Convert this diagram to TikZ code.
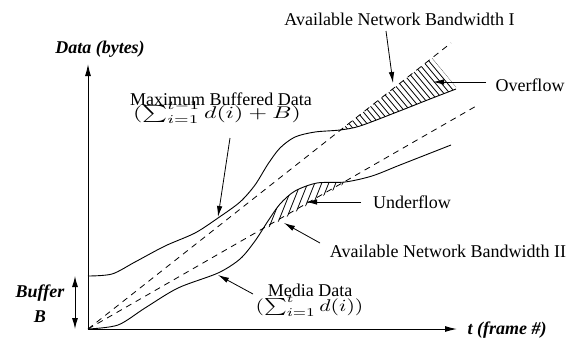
\documentclass[tikz,border=0pt]{standalone}
\usepackage{graphicx}
\usepackage{fontspec}
\setmainfont{Liberation Serif}
\usetikzlibrary{arrows.meta}
\begin{document}
\begin{tikzpicture}[x=1pt,y=-1pt,
  lbl/.style={font=\fontsize{18}{20}\selectfont, inner sep=0pt, anchor=base},
  mlbl/.style={font=\fontsize{10}{12}\selectfont, inner sep=0pt, anchor=base},
  axlbl/.style={font=\fontsize{18}{20}\selectfont\bfseries\itshape, inner sep=0pt, anchor=base},
  curve/.style={line width=0.9pt},
  axis/.style={line width=1pt,-{Latex[length=12pt,width=6pt]}},
  bw/.style={line width=0.8pt, dash pattern=on 6pt off 5pt},
  pointer/.style={line width=0.8pt, -{Latex[length=11pt,width=5.5pt]}},
  hatch/.style={line width=0.8pt}]
\useasboundingbox (0,0) rectangle (572,338);

% axes
\coordinate (O) at (88,329);
\coordinate (Ytop) at (88,64);
\coordinate (Xend) at (457,329);
\draw[axis] (O) -- (Ytop);
\draw[axis] (O) -- (Xend);

% buffer arrow
\coordinate (bbt) at (75,276);
\coordinate (bbb) at (75,329);
\draw[line width=1pt,{Latex[length=11pt,width=6pt]}-{Latex[length=11pt,width=6pt]}] (bbt) -- (bbb);

% bandwidth lines
\coordinate (BWI) at (451,43);
\coordinate (BWII) at (478,105);
\draw[bw] (O) -- (BWI);
\draw[bw] (O) -- (BWII);

% maximum buffered data curve
\draw[curve] plot[smooth] coordinates {(88,276) (112,274) (135,262) (165,246) (195,233) (218,218) (240,202) (255,185) (268,164) (280,148) (295,137) (315,132) (340,130) (360,126) (397,112) (430,99) (456,89)};

% media data curve
\draw[curve] plot[smooth] coordinates {(88,329) (118,325) (145,308) (178,288) (218,273) (240,259) (255,241) (268,221) (280,204) (295,191) (317,183) (345,182) (372,176) (400,165) (451,145)};

% overflow hatching
\begin{scope}
  \clip (330,138.3) -- (432,58) -- (461,93) -- (461,200) -- (330,200) -- cycle;
  \clip plot[smooth] coordinates {(88,276) (112,274) (135,262) (165,246) (195,233) (218,218) (240,202) (255,185) (268,164) (280,148) (295,137) (315,132) (340,130) (360,126) (397,112) (430,99) (456,89)} -- (456,0) -- (88,0) -- cycle;
  \foreach \x in {150,156,...,462} \draw[hatch] (\x,0) -- ++(150,180);
\end{scope}

% underflow hatching
\begin{scope}
  \clip (250,237.9) -- (350,180.5) -- (350,100) -- (250,100) -- cycle;
  \clip plot[smooth] coordinates {(88,329) (118,325) (145,308) (178,288) (218,273) (240,259) (255,241) (268,221) (280,204) (295,191) (317,183) (345,182) (372,176) (400,165) (451,145)} -- (451,400) -- (88,400) -- cycle;
  \foreach \x in {258,265,...,390} \draw[hatch] (\x,150) -- ++(-40,100);
\end{scope}

% labels
\node[axlbl] (ylab) at (100,53) {Data (bytes)};
\node[axlbl] (xlab) at (507,334) {t (frame \#)};
\node[axlbl] (buf) at (40,297) {Buffer};
\node[axlbl] (bufB) at (40,322) {B};
\node[lbl] (bwIlab) at (399.5,25) {Available Network Bandwidth I};
\node[lbl] (ovlab) at (530,91) {Overflow};
\node[lbl] (mxlab) at (221,105) {Maximum Buffered Data};
\node[mlbl] (mxform) at (217,118) {\scalebox{2.38}[1.7]{$(\sum_{i=1}^{t-1} d(i) + B)$}};
\node[lbl] (unlab) at (412,208) {Underflow};
\node[lbl] (bwIIlab) at (448,257) {Available Network Bandwidth II};
\node[lbl] (mdlab) at (310,296) {Media Data};
\node[mlbl] (mdform) at (309.5,311) {\scalebox{2.16}[1.7]{$(\sum_{i=1}^{t} d(i))$}};

% pointer arrows
\coordinate (mxs) at (230,138); \coordinate (mxt) at (218,217);
\coordinate (mds) at (253,294); \coordinate (mdt) at (218,275);
\coordinate (bis) at (386,31);  \coordinate (bit) at (393,83);
\coordinate (ovs) at (486,82);  \coordinate (ovt) at (433,82);
\coordinate (uns) at (361,202); \coordinate (unt) at (306,202);
\coordinate (b2s) at (320,243); \coordinate (b2t) at (284,223);
\draw[pointer] (mxs) -- (mxt);
\draw[pointer] (mds) -- (mdt);
\draw[pointer] (bis) -- (bit);
\draw[pointer] (ovs) -- (ovt);
\draw[pointer] (uns) -- (unt);
\draw[pointer] (b2s) -- (b2t);
\end{tikzpicture}
\end{document}
